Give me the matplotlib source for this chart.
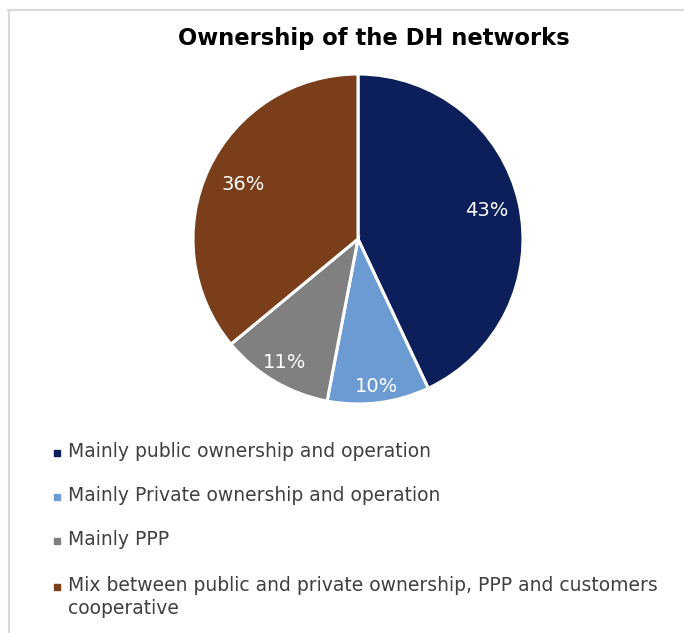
import numpy as np
import matplotlib.pyplot as plt
from matplotlib.patches import Rectangle
from matplotlib.lines import Line2D

categories = [
    "Mainly public ownership and operation",
    "Mainly Private ownership and operation",
    "Mainly PPP",
    "Mix between public and private ownership, PPP and customers\ncooperative",
]
shares = [43, 10, 11, 36]
colors = ["#0c1f5a", "#6b9bd2", "#808080", "#7a3f1a"]
label_dist = [0.80, 0.90, 0.87, 0.77]

W, H = 684, 633
fig = plt.figure(figsize=(W / 100, H / 100), dpi=100)
fig.patch.set_facecolor("white")

# pie axes in pixel units -> figure fractions
cx, cy, r = 358, 239, 165
ax = fig.add_axes([(cx - r) / W, 1 - (cy + r) / H, 2 * r / W, 2 * r / H])
wedges, _ = ax.pie(shares, colors=colors, startangle=90, counterclock=False,
                   wedgeprops=dict(edgecolor="white", linewidth=2.2), radius=1)
ax.set_xlim(-1, 1)
ax.set_ylim(-1, 1)
ax.set_aspect("equal")

for w, v, d in zip(wedges, shares, label_dist):
    mid = np.deg2rad((w.theta1 + w.theta2) / 2)
    ax.text(d * np.cos(mid), d * np.sin(mid), f"{v}%", ha="center", va="center",
            color="white", fontsize=14)

fig.text(374 / W, 1 - 38 / H, "Ownership of the DH networks", ha="center", va="center",
         fontsize=16.3, fontweight="bold", color="black")

# legend drawn by hand so the square sits on the first line
rows = [453, 497, 541, 587]
for y, lab, c in zip(rows, categories, colors):
    fig.add_artist(Rectangle((54 / W, 1 - (y + 3) / H), 6 / W, 6 / H,
                             transform=fig.transFigure, color=c))
    fig.text(68 / W, 1 - (y - 11) / H, lab, ha="left", va="top", fontsize=13.5,
             color="#404040", linespacing=1.25)

# thin frame on the top and left edges
fig.add_artist(Line2D([8 / W, 1], [1 - 10 / H] * 2, transform=fig.transFigure,
                      color="#d9d9d9", lw=1.5))
fig.add_artist(Line2D([9 / W] * 2, [0, 1 - 10 / H], transform=fig.transFigure,
                      color="#d9d9d9", lw=1.5))

fig.savefig("out.png", dpi=100)
